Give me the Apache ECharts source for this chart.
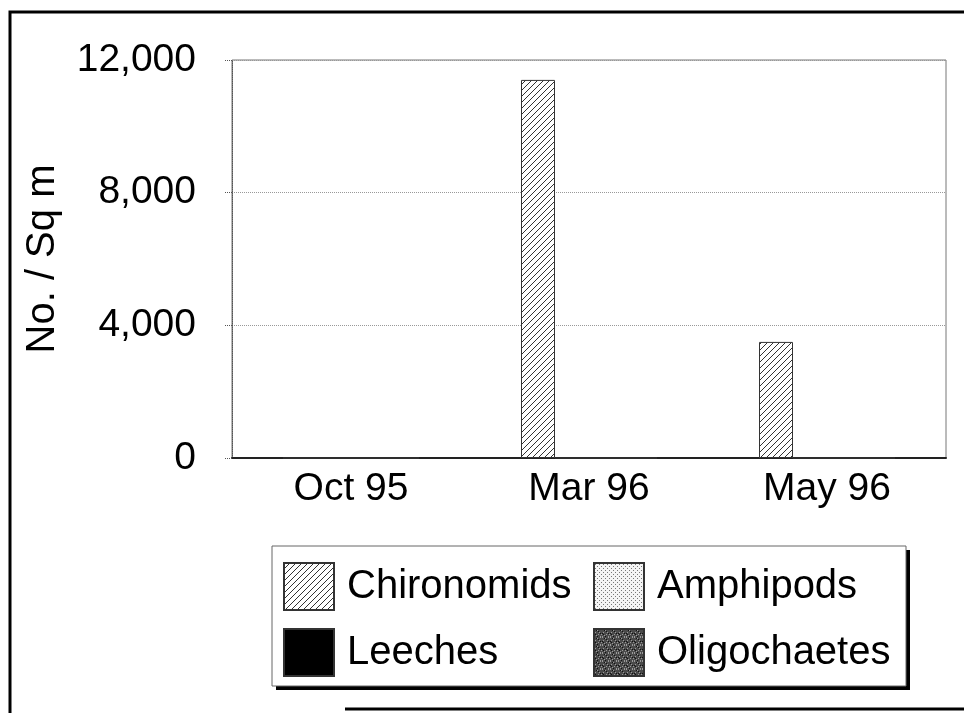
<!DOCTYPE html>
<html>
<head>
<meta charset="utf-8">
<title>No. / Sq m</title>
<script src="https://cdn.jsdelivr.net/npm/echarts@6/dist/echarts.min.js"></script>
<style>
  html, body { margin: 0; padding: 0; background: #fff; }
  #chart { width: 964px; height: 713px; }
</style>
</head>
<body>
<div id="chart"></div>
<script>
// data
const months = ['Oct 95', 'Mar 96', 'May 96'];
const chironomids = [0, 11400, 3500];
const amphipods = [0, 0, 0];
const leeches = [0, 0, 0];
const oligochaetes = [0, 0, 0];
const yTicks = [0, 4000, 8000, 12000];

const FONT = '"Liberation Sans", Arial, sans-serif';

// small canvas tiles used as fill patterns (like the old b/w print fills)
function tile(size, draw) {
  const c = document.createElement('canvas');
  c.width = size;
  c.height = size;
  const ctx = c.getContext('2d');
  draw(ctx, size);
  return { image: c, repeat: 'repeat' };
}

const hatch = tile(6, (ctx, s) => {
  ctx.fillStyle = '#fff';
  ctx.fillRect(0, 0, s, s);
  ctx.strokeStyle = '#333';
  ctx.lineWidth = 1;
  ctx.beginPath();
  ctx.moveTo(-1, s + 1); ctx.lineTo(s + 1, -1);
  ctx.moveTo(-1, 1); ctx.lineTo(1, -1);
  ctx.moveTo(s - 1, s + 1); ctx.lineTo(s + 1, s - 1);
  ctx.stroke();
});

const dots = tile(4, (ctx, s) => {
  ctx.fillStyle = '#f4f4f4';
  ctx.fillRect(0, 0, s, s);
  ctx.fillStyle = '#777';
  ctx.fillRect(1, 1, 1, 1);
  ctx.fillRect(3, 3, 1, 1);
});

// fixed speckle tile for the dark mottled fill
const speckle = tile(8, (ctx, s) => {
  ctx.fillStyle = '#4a4a4a';
  ctx.fillRect(0, 0, s, s);
  const light = [[0,0],[3,1],[6,0],[1,3],[5,3],[7,5],[2,6],[4,5],[0,7],[6,7]];
  const dark = [[2,1],[4,2],[0,4],[6,4],[3,7],[1,5]];
  ctx.fillStyle = '#9a9a9a';
  light.forEach(p => ctx.fillRect(p[0], p[1], 1, 1));
  ctx.fillStyle = '#111';
  dark.forEach(p => ctx.fillRect(p[0], p[1], 1, 1));
});

const chart = echarts.init(document.getElementById('chart'));

function barSeries(name, data, fill) {
  return {
    name,
    type: 'bar',
    data,
    barWidth: 34,
    barGap: '0%',
    itemStyle: { color: fill, borderColor: '#333', borderWidth: 1 },
    emphasis: { disabled: true }
  };
}

// one legend per column so the two columns line up like the original
function legendColumn(left, names) {
  return {
    left,
    top: 562,
    orient: 'vertical',
    itemWidth: 50,
    itemHeight: 47,
    itemGap: 17,
    padding: 0,
    icon: 'rect',
    selectedMode: false,
    z: 10,
    textStyle: { fontFamily: FONT, fontSize: 40, color: '#000', padding: [0, 0, 0, 8] },
    data: names
  };
}

const option = {
  backgroundColor: '#fff',
  animation: false,
  textStyle: { fontFamily: FONT, color: '#000' },
  grid: {
    left: 232, right: 18, top: 60, bottom: 255,
    show: true, borderColor: '#777', borderWidth: 1
  },
  legend: [
    legendColumn(283, ['Chironomids', 'Leeches']),
    legendColumn(593, ['Amphipods', 'Oligochaetes'])
  ],
  xAxis: {
    type: 'category',
    data: months,
    axisLine: { lineStyle: { color: '#222', width: 2 } },
    axisTick: { length: 10, lineStyle: { color: '#555', type: 'dotted' } },
    axisLabel: { fontFamily: FONT, fontSize: 39, color: '#000', margin: 12 }
  },
  yAxis: {
    type: 'value',
    min: yTicks[0],
    max: yTicks[yTicks.length - 1],
    interval: yTicks[1] - yTicks[0],
    name: 'No. / Sq m',
    nameLocation: 'middle',
    nameGap: 169,
    nameTextStyle: { fontFamily: FONT, fontSize: 40, color: '#000' },
    axisLine: { show: true, lineStyle: { color: '#555', type: 'dotted' } },
    axisTick: { show: true, length: 8, lineStyle: { color: '#555', type: 'dotted' } },
    axisLabel: {
      fontFamily: FONT, fontSize: 39, color: '#000', margin: 36,
      formatter: v => v.toLocaleString('en-US')
    },
    splitLine: { lineStyle: { color: '#999', type: 'dotted' } }
  },
  series: [
    barSeries('Chironomids', chironomids, hatch),
    barSeries('Amphipods', amphipods, dots),
    barSeries('Leeches', leeches, '#000'),
    barSeries('Oligochaetes', oligochaetes, speckle)
  ],
  graphic: [{
    // legend box drop shadow
    type: 'rect',
    silent: true,
    z: 5,
    shape: { x: 276, y: 550, width: 634, height: 140 },
    style: { fill: '#000' }
  }, {
    type: 'rect',
    silent: true,
    z: 6,
    shape: { x: 272, y: 546, width: 634, height: 140 },
    style: { fill: '#fff', stroke: '#666', lineWidth: 1 }
  }, {
    // the heavy black frame round the scanned figure
    type: 'polyline',
    silent: true,
    shape: { points: [[10, 713], [10, 12], [964, 12]] },
    style: { stroke: '#000', lineWidth: 3, fill: null }
  }, {
    type: 'line',
    silent: true,
    shape: { x1: 345, y1: 709, x2: 964, y2: 709 },
    style: { stroke: '#000', lineWidth: 3 }
  }]
};

chart.setOption(option);
</script>
</body>
</html>
